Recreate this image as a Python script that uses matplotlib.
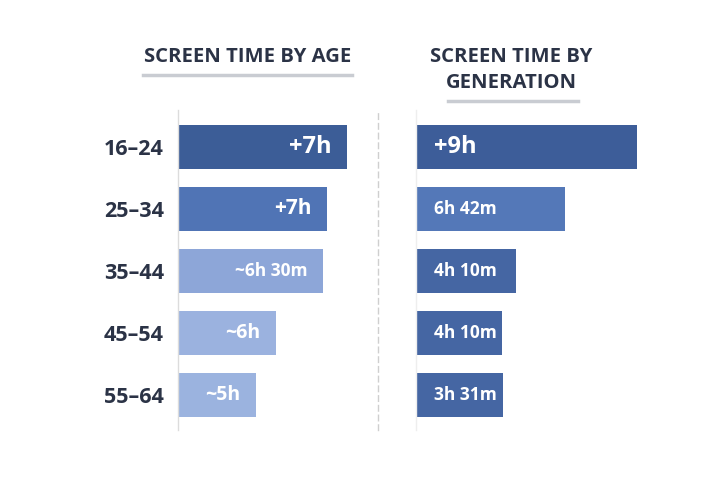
import matplotlib
matplotlib.use("Agg")
import matplotlib.pyplot as plt
from matplotlib.lines import Line2D

plt.rcParams['font.family'] = ['Open Sans', 'DejaVu Sans']

# data (bar lengths in hours)
age_groups = ["16–24", "25–34", "35–44", "45–54", "55–64"]
age_hours = [6.75, 5.95, 5.8, 3.9, 3.1]
age_labels = ["+7h", "+7h", "~6h 30m", "~6h", "~5h"]

gen_hours = [8.85, 5.95, 4.0, 3.45, 3.5]
gen_labels = ["+9h", "6h 42m", "4h 10m", "4h 10m", "3h 31m"]

# styles
age_colors = ["#3c5d97", "#5074b5", "#8da6d8", "#9bb2df", "#9bb3df"]
age_label_sizes = [17, 15, 12.5, 14, 14]
gen_colors = ["#3d5d99", "#5478b8", "#4566a3", "#4566a3", "#4566a3"]
gen_label_sizes = [17, 12.5, 12.5, 12.5, 12.5]
navy = "#2b3346"
W, H = 720, 480

fig = plt.figure(figsize=(7.2, 4.8), dpi=100)
fig.patch.set_facecolor("white")


def px_box(x0, x1, y0, y1):
    return [x0 / W, 1 - y1 / H, (x1 - x0) / W, (y1 - y0) / H]


ax1 = fig.add_axes(px_box(178, 378, 110, 430))
ax2 = fig.add_axes(px_box(416, 676, 110, 430))

ypos = list(range(len(age_groups)))

ax1.barh(ypos, age_hours, height=0.71, color=age_colors)
for y, v, lab, fs in zip(ypos, age_hours, age_labels, age_label_sizes):
    ax1.annotate(lab, (v, y), xytext=(-11, 0), textcoords="offset points",
                 ha="right", va="center", color="white", fontsize=fs,
                 fontweight="bold")

ax2.barh(ypos, gen_hours, height=0.71, color=gen_colors)
for y, v, lab, fs in zip(ypos, gen_hours, gen_labels, gen_label_sizes):
    ax2.annotate(lab, (0, y), xytext=(13, 0), textcoords="offset points",
                 ha="left", va="center", color="white", fontsize=fs,
                 fontweight="bold")

for ax in (ax1, ax2):
    ax.set_ylim(4.56, -0.59)
    ax.set_xticks([])
    ax.set_facecolor("none")
    for s in ("top", "bottom", "right"):
        ax.spines[s].set_visible(False)
    ax.spines["left"].set_color("#dcdcdc")
    ax.spines["left"].set_linewidth(1.0)

ax1.set_xlim(0, 8.0)
ax2.set_xlim(0, 10.4)

ax1.set_yticks(ypos)
ax1.set_yticklabels(age_groups, fontsize=15.5, fontweight="bold", color=navy)
ax1.tick_params(axis="y", length=0, pad=10)
ax2.set_yticks([])
ax2.spines["left"].set_color("#eeeeee")

# dashed separator between the two panels
ax1.spines["right"].set_visible(True)
ax1.spines["right"].set_linestyle((0, (4, 3)))
ax1.spines["right"].set_color("#cfcfcf")
ax1.spines["right"].set_linewidth(1.0)

# titles with underline
fig.text(247.5 / W, 1 - 57 / H, "SCREEN TIME BY AGE", ha="center", va="center",
         fontsize=14.6, fontweight="bold", color=navy)
fig.add_artist(Line2D([143 / W, 352 / W], [1 - 75 / H, 1 - 75 / H],
                      color="#c9ccd2", linewidth=2.5))

fig.text(511 / W, 1 - 70 / H, "SCREEN TIME BY\nGENERATION", ha="center",
         va="center", fontsize=14.6, fontweight="bold", color=navy,
         linespacing=1.35)
fig.add_artist(Line2D([448 / W, 578 / W], [1 - 101 / H, 1 - 101 / H],
                      color="#c9ccd2", linewidth=2.5))

fig.savefig("out.png", dpi=100, facecolor="white")
